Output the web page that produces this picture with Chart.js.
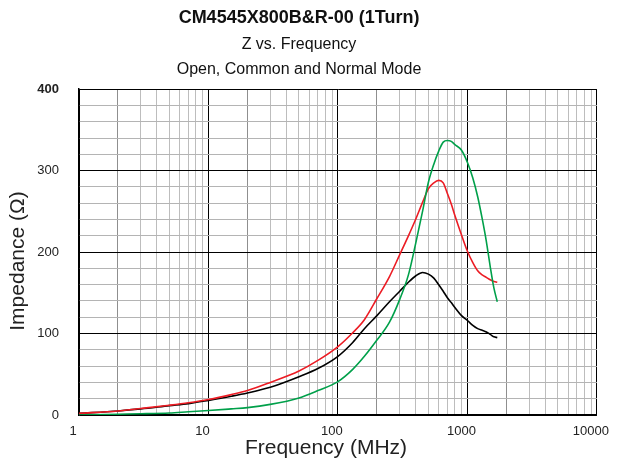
<!DOCTYPE html>
<html>
<head>
<meta charset="utf-8">
<script src="https://cdn.jsdelivr.net/npm/chart.js@4.4.1/dist/chart.umd.min.js"></script>
<style>
  html, body { margin: 0; padding: 0; background: #fff; }
  #wrap { width: 624px; height: 464px; }
</style>
</head>
<body>
<div id="wrap"><canvas id="zChart"></canvas></div>
<script>
// frequency points in MHz, shared by all three curves
const freqs = [1, 2, 3, 5, 7, 10, 15, 20, 30, 50, 70, 100, 130, 160, 200, 250, 300, 350,
  400, 450, 500, 550, 600, 650, 700, 750, 800, 900, 1000, 1100, 1200, 1300, 1400, 1500, 1600, 1700];

// impedance in ohms
const redZ = [2, 5, 8, 12, 15, 19, 25, 30, 40, 54, 67, 84, 101, 117, 143, 170, 197, 220,
  241, 261, 278, 285, 288, 285, 272, 259, 245, 221, 201, 187, 177, 172, 169, 166, 164, 163];
const blackZ = [2, 5, 7.5, 11.5, 14, 18, 23, 27, 34, 47, 57, 72, 89, 106, 122, 139, 152, 163,
  171, 175, 173, 168, 160, 152, 144, 138, 132, 122, 116, 110, 106, 104, 102, 99, 96, 95];
const greenZ = [0, 1, 1.5, 2.5, 4, 5.5, 7.5, 9, 13, 21, 30, 41, 56, 72, 92, 114, 142, 172,
  212, 250, 286, 308, 324, 335, 337, 336, 332, 325, 310, 291, 268, 241, 213, 182, 156, 139];

const xTickValues = [];
for (let dec = 1; dec < 10000; dec *= 10) {
  for (let m = 1; m < 10; m++) xTickValues.push(m * dec);
}
xTickValues.push(10000);
const xLabels = [1, 10, 100, 1000, 10000];

const titleText = "CM4545X800B&R-00 (1Turn)";
const subtitleLines = ["Z vs. Frequency", "Open, Common and Normal Mode"];
const xTitle = "Frequency (MHz)";
const yTitle = "Impedance (\u03A9)";

const FONT = "'Liberation Sans', Arial, sans-serif";

function toPoints(vals) {
  return freqs.map((f, i) => ({ x: f, y: vals[i] }));
}

function series(label, vals, color) {
  return {
    label,
    data: toPoints(vals),
    borderColor: color,
    backgroundColor: color,
    borderWidth: 1.6,
    pointRadius: 0,
    tension: 0.3,
    cubicInterpolationMode: "monotone",
    fill: false
  };
}

// axis titles are drawn by hand so they sit where the original has them
const axisTitles = {
  id: "axisTitles",
  afterDraw(chart) {
    const c = chart.ctx;
    c.save();
    c.fillStyle = "#222";
    c.font = "21px " + FONT;
    c.textAlign = "center";
    c.textBaseline = "middle";
    c.fillText(xTitle, 326, 448);
    c.translate(18, 261);
    c.rotate(-Math.PI / 2);
    c.fillText(yTitle, 0, 0);
    c.restore();
  }
};

document.addEventListener("DOMContentLoaded", () => {
  const ctx = document.getElementById("zChart").getContext("2d");

  new Chart(ctx, {
    type: "line",
    data: {
      datasets: [
        series("Open", greenZ, "#00a04a"),
        series("Common", redZ, "#ec1c24"),
        series("Normal", blackZ, "#000000")
      ]
    },
    options: {
      responsive: true,
      maintainAspectRatio: false,
      animation: false,
      layout: { padding: { left: 0, right: 26, top: 0, bottom: 0 } },
      scales: {
        x: {
          type: "logarithmic",
          min: 1,
          max: 10000,
          afterBuildTicks: (scale) => {
            scale.ticks = xTickValues.map(v => ({ value: v }));
          },
          afterFit: (scale) => { scale.height = 49; },
          border: { display: true, color: "#000", width: 1.5 },
          grid: {
            drawTicks: false,
            color: (c) => {
              const v = c.tick ? c.tick.value : 0;
              if (xLabels.includes(v)) return "#000";
              const lead = Math.round(v / Math.pow(10, Math.floor(Math.log10(v) + 1e-9)));
              return lead === 2 ? "#8f8f8f" : "#bdbdbd";
            },
            lineWidth: 1
          },
          ticks: {
            autoSkip: false,
            maxRotation: 0,
            padding: 9,
            labelOffset: -6,
            color: "#222",
            font: { family: FONT, size: 13 },
            callback: (v) => xLabels.includes(v) ? String(v) : ""
          },
          title: { display: false }
        },
        y: {
          min: 0,
          max: 400,
          afterFit: (scale) => { scale.width = 79; },
          border: { display: true, color: "#000", width: 1.5 },
          grid: {
            drawTicks: false,
            color: (c) => (c.tick && Math.round(c.tick.value) % 100 === 0) ? "#000" : "#b4b4b4",
            lineWidth: 1
          },
          ticks: {
            stepSize: 20,
            autoSkip: false,
            padding: 20,
            color: "#222",
            font: (c) => ({
              family: FONT,
              size: 13,
              weight: (c.tick && c.tick.value === 400) ? "bold" : "normal"
            }),
            callback: (v) => Math.round(v) % 100 === 0 ? String(Math.round(v)) : ""
          },
          title: { display: false }
        }
      },
      plugins: {
        legend: { display: false },
        tooltip: { enabled: false },
        title: {
          display: true,
          text: titleText,
          color: "#111",
          font: { family: FONT, size: 18, weight: "bold", lineHeight: 1.2 },
          padding: { top: 7, bottom: 4 }
        },
        subtitle: {
          display: true,
          text: subtitleLines,
          color: "#111",
          font: { family: FONT, size: 16, lineHeight: 1.55 },
          padding: { top: 0, bottom: 7 }
        }
      }
    },
    plugins: [axisTitles]
  });
});
</script>
</body>
</html>
